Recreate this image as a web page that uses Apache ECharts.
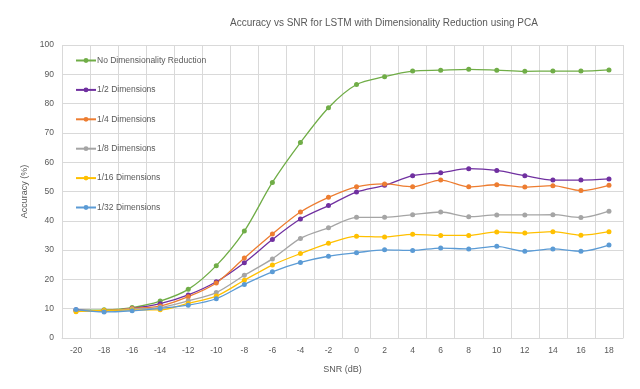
<!DOCTYPE html>
<html>
<head>
<meta charset="utf-8">
<script src="https://cdn.jsdelivr.net/npm/echarts@6/dist/echarts.min.js"></script>
<style>
  html, body { margin: 0; padding: 0; background: #fff; }
  #chart { width: 640px; height: 389px; }
</style>
</head>
<body>
<div id="chart"></div>
<script>
// SNR 类别
const snrLabels = ['-20', '-18', '-16', '-14', '-12', '-10', '-8', '-6', '-4', '-2',
  '0', '2', '4', '6', '8', '10', '12', '14', '16', '18'];

// 各维度的准确率 (%)
const noReduction = [9.5, 9.6, 10.4, 12.6, 16.6, 24.7, 36.5, 53.1, 66.7, 78.6,
  86.5, 89.2, 91.1, 91.4, 91.7, 91.4, 91.0, 91.1, 91.1, 91.5];
const half = [9.6, 9.3, 10.1, 11.7, 14.7, 19.2, 25.7, 33.6, 40.6, 45.2,
  49.8, 52.1, 55.4, 56.4, 57.8, 57.2, 55.4, 53.9, 53.9, 54.3];
const quarter = [9.3, 9.3, 10.1, 10.9, 14.1, 18.8, 27.3, 35.5, 43.0, 48.0,
  51.6, 52.6, 51.6, 53.9, 51.6, 52.3, 51.5, 52.0, 50.3, 52.1];
const eighth = [9.3, 9.3, 9.9, 10.4, 12.7, 15.5, 21.4, 27.0, 34.0, 37.6,
  41.2, 41.2, 42.1, 43.0, 41.4, 42.0, 42.0, 42.1, 41.1, 43.3];
const sixteenth = [9.0, 9.4, 9.6, 9.6, 11.8, 14.3, 19.7, 24.9, 28.8, 32.3,
  34.7, 34.5, 35.4, 35.0, 35.0, 36.2, 35.8, 36.3, 35.1, 36.3];
const thirtySecond = [9.7, 8.9, 9.3, 10.1, 11.2, 13.4, 18.3, 22.6, 25.8, 27.9,
  29.1, 30.1, 29.9, 30.7, 30.4, 31.3, 29.6, 30.4, 29.6, 31.7];

const seriesNames = ['No Dimensionality Reduction', '1/2 Dimensions', '1/4 Dimensions',
  '1/8 Dimensions', '1/16 Dimensions', '1/32 Dimensions'];
const seriesData = [noReduction, half, quarter, eighth, sixteenth, thirtySecond];
const seriesColors = ['#70AD47', '#7030A0', '#ED7D31', '#A5A5A5', '#FFC000', '#5B9BD5'];

const font = 'Liberation Sans, Arial, sans-serif';
const chart = echarts.init(document.getElementById('chart'));

chart.setOption({
  animation: false,
  title: {
    text: 'Accuracy vs SNR for LSTM with Dimensionality Reduction using PCA',
    left: 225, top: 13,
    textStyle: { fontSize: 10, fontWeight: 'normal', color: '#595959', fontFamily: font }
  },
  legend: {
    data: seriesNames,
    orient: 'vertical',
    left: 70, top: 51,
    itemWidth: 20, itemHeight: 6,
    itemGap: 20.4,
    textStyle: { fontSize: 8.5, color: '#595959', fontFamily: font, padding: [0, 0, 0, -4] }
  },
  grid: { left: 62, right: 17, top: 45, bottom: 51 },
  xAxis: {
    type: 'category',
    data: snrLabels,
    name: 'SNR (dB)',
    nameLocation: 'middle',
    nameGap: 27,
    nameTextStyle: { fontSize: 9, color: '#595959', fontFamily: font },
    axisLine: { lineStyle: { color: '#D9D9D9' } },
    axisTick: { show: false },
    axisLabel: { fontSize: 8.5, color: '#595959', fontFamily: font, margin: 8 },
    splitLine: { show: true, lineStyle: { color: '#D9D9D9' } }
  },
  yAxis: {
    type: 'value',
    min: 0, max: 100, interval: 10,
    name: 'Accuracy (%)',
    nameLocation: 'middle',
    nameGap: 30,
    nameTextStyle: { fontSize: 9, color: '#595959', fontFamily: font },
    axisLine: { show: false },
    axisTick: { show: false },
    axisLabel: { fontSize: 8.5, color: '#595959', fontFamily: font, margin: 8 },
    splitLine: { lineStyle: { color: '#D9D9D9' } }
  },
  series: seriesNames.map((name, i) => ({
    name,
    type: 'line',
    data: seriesData[i],
    smooth: 0.3,
    symbol: 'circle',
    symbolSize: 5,
    lineStyle: { color: seriesColors[i], width: 1.3 },
    itemStyle: { color: seriesColors[i] }
  }))
});
</script>
</body>
</html>
